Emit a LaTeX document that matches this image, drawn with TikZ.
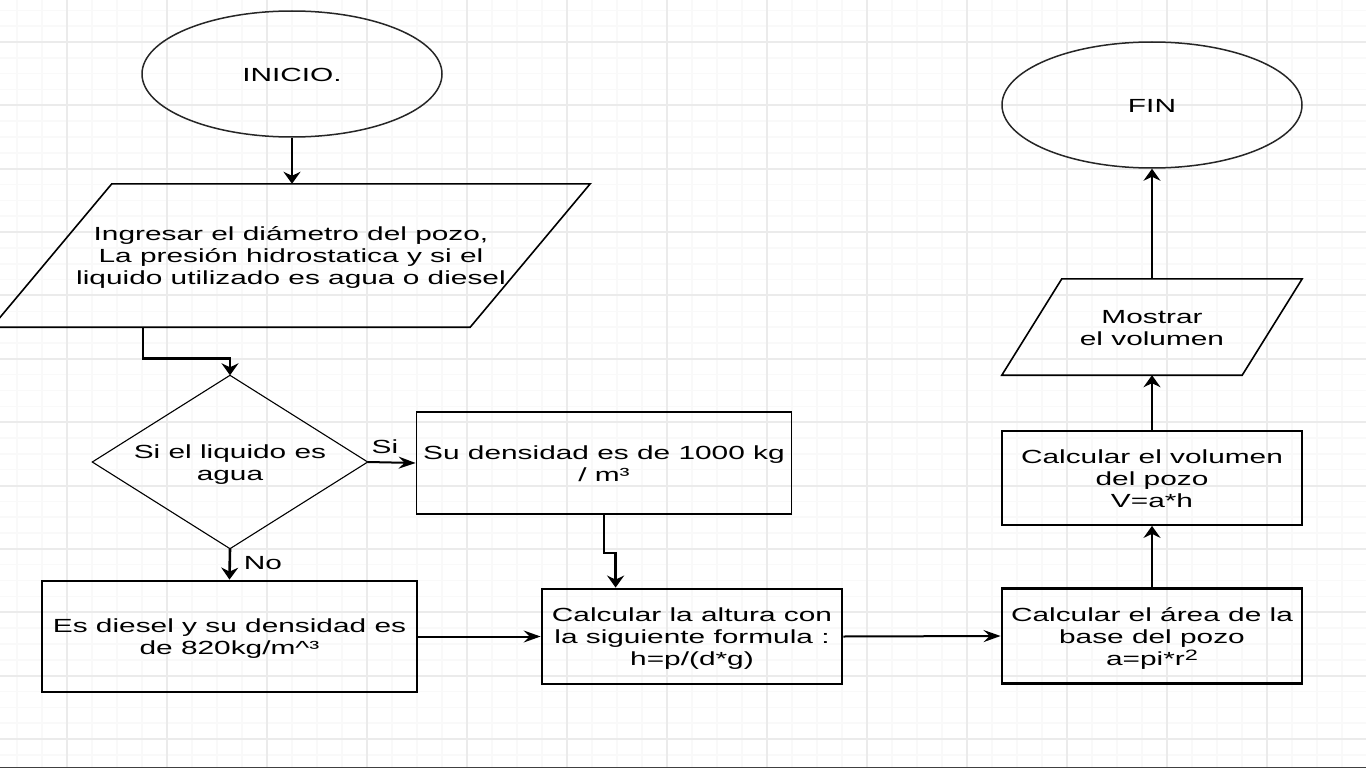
\documentclass[tikz,border=0pt]{standalone}
\usepackage{fontspec}
\setmainfont{Liberation Sans}
\usepackage{graphicx}
\usetikzlibrary{shapes.geometric,arrows.meta,calc}
\newcommand{\tx}[1]{\raisebox{-3pt}[\height][\depth]{\scalebox{1.57}[1]{\begin{tabular}{@{}c@{}}#1\end{tabular}}}}
\definecolor{gminor}{HTML}{F9F9F9}
\definecolor{gmajor}{HTML}{EBEBEB}
\begin{document}
\begin{tikzpicture}[x=1pt,y=-1pt,
  every node/.style={font=\fontsize{19}{22}\selectfont, inner sep=0pt},
  box/.style={draw, rectangle, line width=#1},
  box/.default=2pt,
  ell/.style={draw=black!85, ellipse, line width=1.5pt, minimum width=300, minimum height=126},
  va/.style={line width=2.6pt, -{Stealth[length=12pt, width=17pt, inset=4pt]}},
  ha/.style={line width=2pt, -{Stealth[length=17pt, width=12pt, inset=6pt]}}]
\useasboundingbox (0,0) rectangle (1366,768);
\fill[white] (0,0) rectangle (1366,768);
% grid
\foreach \i in {0,...,54} \draw[gminor, line width=1.5pt] (17+25*\i,0) -- (17+25*\i,768);
\foreach \k in {-2,...,45} \draw[gminor, line width=1.5pt] (0,{42+15.84*\k}) -- (1366,{42+15.84*\k});
\foreach \i in {0,...,12} \draw[gmajor, line width=2pt] (67+100*\i,0) -- (67+100*\i,768);
\foreach \k in {0,...,11} \draw[gmajor, line width=2pt] (0,{42+63.36*\k}) -- (1366,{42+63.36*\k});
\fill[black!75] (0,766.5) rectangle (1366,768);

% nodes
\node[ell] (ini) at (292,74) {\tx{INICIO.}};
\node[minimum width=598, minimum height=143] (p1) at (291,255.5)
  {\tx{Ingresar el diámetro del pozo,\\La presión hidrostatica y si el\\liquido utilizado es agua o diesel}};
\draw[line width=1.6pt] ($(p1.north west)+(120,0)$) -- (p1.north east) -- ($(p1.south east)+(-120,0)$) -- (p1.south west) -- cycle;

\node[minimum width=275, minimum height=173] (d) at (230,462) {\tx{Si el liquido es\\agua}};
\draw[line width=1.1pt] (d.north) -- (d.east) -- (d.south) -- (d.west) -- cycle;

\node[box=1.8pt, minimum width=375, minimum height=102] (su) at (604,463) {\tx{Su densidad es de 1000 kg\\/ m³}};
\node[box=2.8pt, minimum width=375, minimum height=111] (dies) at (229.5,636.5) {\tx{Es diesel y su densidad es\\de 820kg/m\textasciicircum³}};
\node[box=2.8pt, minimum width=300, minimum height=95] (calc) at (692,636.5) {\tx{Calcular la altura con\\la siguiente formula :\\h=p/(d*g)}};
\node[box=2.8pt, minimum width=300, minimum height=95] (area) at (1152,636) {\tx{Calcular el área de la\\base del pozo\\a=pi*r\raisebox{5pt}{\fontsize{15}{15}\selectfont 2}}};
\node[box=1.8pt, minimum width=300, minimum height=94] (vol) at (1152,478) {\tx{Calcular el volumen\\del pozo\\V=a*h}};
\node[minimum width=300, minimum height=96] (mos) at (1152,327) {\tx{Mostrar\\el volumen}};
\draw[line width=1.6pt] ($(mos.north west)+(60,0)$) -- (mos.north east) -- ($(mos.south east)+(-60,0)$) -- (mos.south west) -- cycle;
\node[ell] (fin) at (1152,105) {\tx{FIN}};

\node (lsi) at (385,446) {\tx{Si}};
\node (lno) at (263,562) {\tx{No}};

% connectors
\draw[va] (ini.south) -- (ini.south |- p1.north);
\draw[va] ($(p1.south west)+(151,0)$) -- ++(0,31) -| (d.north);
\draw[ha] (d.east) -- (su.west);
\draw[va] (d.south) -- (dies.north);
\draw[va] (su.south) -- ++(0,38) -| ($(calc.north west)+(75,0)$);
\draw[ha] (dies.east) -- (calc.west);
\draw[ha] (calc.east) -- (area.west);
\draw[va] (area.north) -- (vol.south);
\draw[va] (vol.north) -- (mos.south);
\draw[va] (mos.north) -- (fin.south);
\end{tikzpicture}
\end{document}
